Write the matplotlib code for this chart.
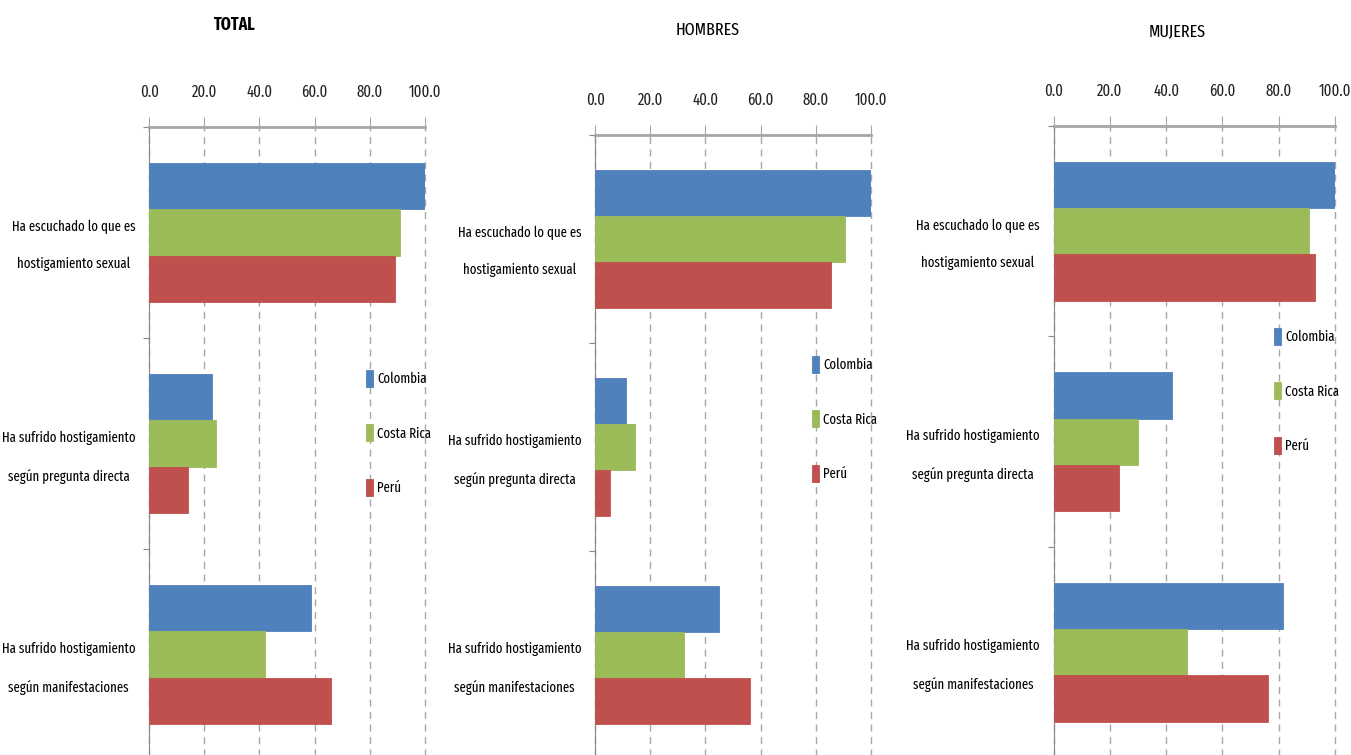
import matplotlib.pyplot as plt
import numpy as np

plt.rcParams['font.family'] = ['Fira Sans Extra Condensed', 'DejaVu Sans']

# data
categories = ["Ha escuchado lo que es\nhostigamiento sexual",
              "Ha sufrido hostigamiento\nsegún pregunta directa",
              "Ha sufrido hostigamiento\nsegún manifestaciones"]
countries = ["Colombia", "Costa Rica", "Perú"]
colors = ["#4F81BD", "#9BBB59", "#C0504D"]
xticks = [0, 20, 40, 60, 80, 100]

total_colombia = [100.0, 22.8, 58.7]
total_costa_rica = [90.9, 24.2, 42.0]
total_peru = [89.2, 13.9, 66.0]

hombres_colombia = [100.0, 11.0, 45.0]
hombres_costa_rica = [90.6, 14.3, 32.3]
hombres_peru = [85.5, 5.3, 56.3]

mujeres_colombia = [100.0, 42.1, 81.7]
mujeres_costa_rica = [90.7, 30.0, 47.4]
mujeres_peru = [93.1, 23.3, 76.4]

W, H = 1351, 755
fig = plt.figure(figsize=(W / 100, H / 100), dpi=100)


def px_rect(left, top, right, bottom):
    return [left / W, 1 - bottom / H, (right - left) / W, (bottom - top) / H]


panels = [
    dict(title="TOTAL", bold=True, tpos=(235, 25), rect=px_rect(149.3, 127, 424.7, 760),
         series=[total_colombia, total_costa_rica, total_peru], leg=(366, 370)),
    dict(title="HOMBRES", bold=False, tpos=(708, 30), rect=px_rect(595.3, 135, 870.7, 759),
         series=[hombres_colombia, hombres_costa_rica, hombres_peru], leg=(812, 356)),
    dict(title="MUJERES", bold=False, tpos=(1177, 32), rect=px_rect(1053.7, 126, 1334.7, 757.5),
         series=[mujeres_colombia, mujeres_costa_rica, mujeres_peru], leg=(1274, 328)),
]

y = np.arange(len(categories))
bh = 0.22

for p in panels:
    ax = fig.add_axes(p["rect"])
    for i, (vals, name, c) in enumerate(zip(p["series"], countries, colors)):
        ax.barh(y + (i - 1) * bh, vals, height=bh, color=c, label=name,
                edgecolor=c, linewidth=0.6, zorder=3)

    ax.set_xlim(0, 100)
    ax.set_ylim(len(categories) - 0.5, -0.5)
    ax.xaxis.tick_top()
    ax.set_xticks(xticks)
    ax.set_xticklabels([f"{v:.1f}" for v in xticks], fontsize=11.5, color="#222222")
    ax.tick_params(axis="x", length=7, color="#A6A6A6", pad=12)

    # boundaries as major ticks, labels on minor ticks at category centres
    ax.set_yticks(np.arange(-0.5, len(categories)))
    ax.set_yticklabels([])
    ax.set_yticks(y, minor=True)
    ax.set_yticklabels(categories, minor=True, fontsize=10, linespacing=3.0)
    for lab in ax.get_yticklabels(minor=True):
        lab.set_multialignment("center")
    ax.tick_params(axis="y", which="major", length=4, color="#888888")
    ax.tick_params(axis="y", which="minor", length=0, pad=10)

    ax.grid(axis="x", ls=(0, (5, 4)), color="#A6A6A6", lw=1, zorder=0)
    for gl in ax.xaxis.get_gridlines():
        gl.set_clip_on(False)
    for s in ["right", "bottom"]:
        ax.spines[s].set_visible(False)
    ax.spines["top"].set_color("#A6A6A6")
    ax.spines["top"].set_linewidth(2)
    ax.spines["left"].set_color("#888888")

    ax.legend(loc="upper left", bbox_to_anchor=(p["leg"][0] / W, 1 - p["leg"][1] / H),
              bbox_transform=fig.transFigure, frameon=False, fontsize=10,
              handlelength=0.5, handleheight=1.5, labelspacing=2.7,
              handletextpad=0.3, borderpad=0, borderaxespad=0)

    fig.text(p["tpos"][0] / W, 1 - p["tpos"][1] / H, p["title"], ha="center", va="center",
             fontsize=12.5, fontweight="bold" if p["bold"] else "normal")

fig.savefig("out.png", dpi=100)
